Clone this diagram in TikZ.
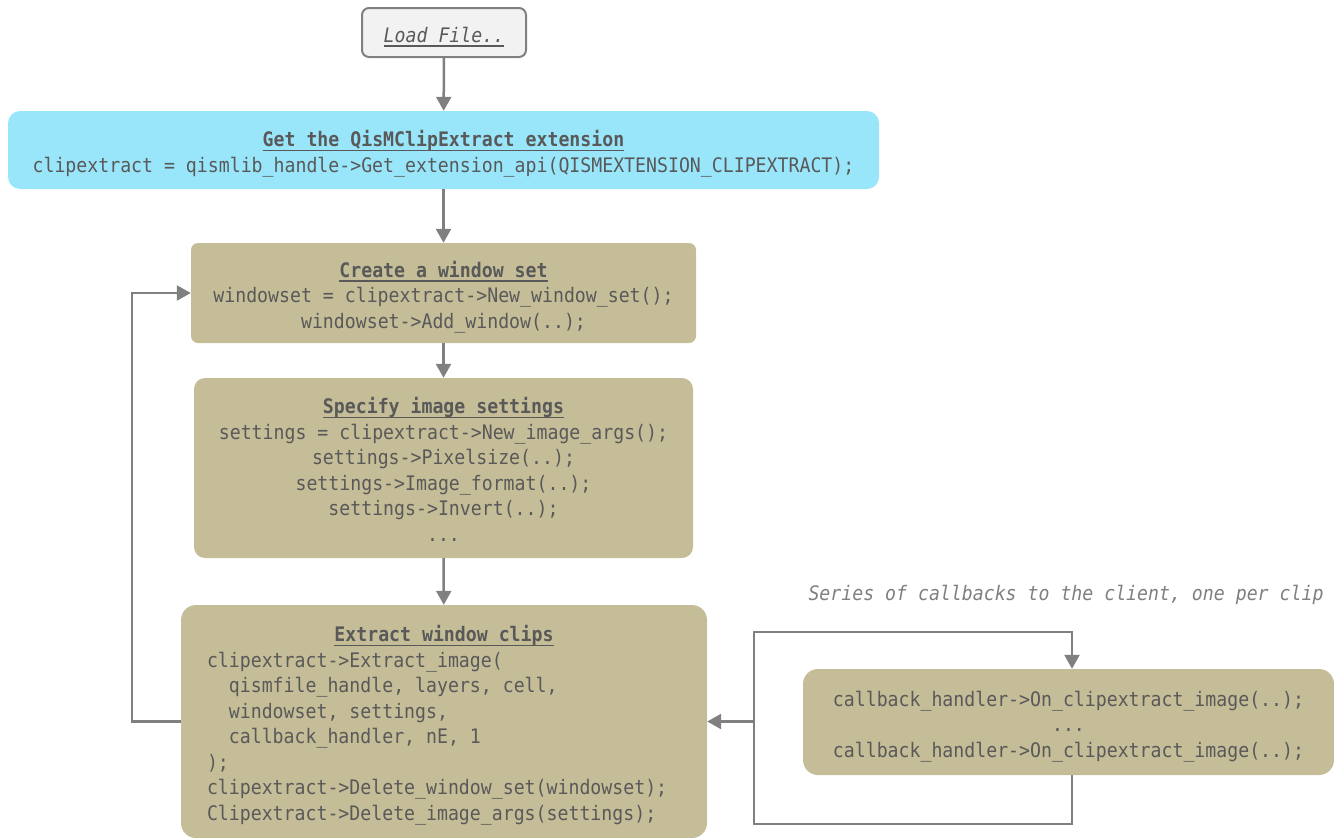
\documentclass[tikz,border=0pt]{standalone}
\usepackage{fontspec}
\setmainfont{DejaVu Sans Mono}[FakeStretch=0.91]
\usetikzlibrary{arrows.meta}

\definecolor{inkgray}{HTML}{595959}
\definecolor{notegray}{HTML}{7F7F7F}
\definecolor{wiregray}{HTML}{808080}
\definecolor{loadfill}{HTML}{F2F2F2}
\definecolor{bluefill}{HTML}{99E6FB}
\definecolor{tanfill}{HTML}{C4BD97}

% struts that lower the text block a little inside each box
\newcommand\bxtop{\rule{0pt}{26.5pt}}
\newcommand\bxbot{\rule[-7.5pt]{0pt}{7.5pt}}
% underline at a fixed depth below the baseline
\newcommand\titleul[1]{\setbox0=\hbox{#1}\leavevmode\rlap{\rule[-4.5pt]{\wd0}{1.6pt}}\box0}

\begin{document}
\begin{tikzpicture}[x=1pt,y=-1pt,
  every node/.style={text=inkgray, inner sep=0pt,
    font=\fontsize{20}{25.5}\selectfont},
  tanbox/.style={fill=tanfill, rounded corners=#1, align=center},
  wire/.style={draw=wiregray, line width=2.5pt},
  arr/.style={wire, -{Triangle[length=14pt,width=15pt]}}]

\useasboundingbox (0,0) rectangle (1334,838);

% boxes
\node[draw=wiregray, line width=2pt, fill=loadfill, rounded corners=7pt,
      minimum width=164pt, minimum height=49pt, align=center]
  (load) at (444,32.5) {\bxtop\titleul{\textit{Load File..}}\bxbot};

\node[fill=bluefill, rounded corners=12pt, minimum width=871pt,
      minimum height=78pt, align=center]
  (getext) at (443.5,150)
  {\bxtop\titleul{\textbf{Get the QisMClipExtract extension}}\\
   clipextract = qismlib\_handle->Get\_extension\_api(QISMEXTENSION\_CLIPEXTRACT);\bxbot};

\node[tanbox=7pt, minimum width=505pt, minimum height=100pt]
  (create) at (443.5,293)
  {\bxtop\titleul{\textbf{Create a window set}}\\
   windowset = clipextract->New\_window\_set();\\
   windowset->Add\_window(..);\bxbot};

\node[tanbox=11pt, minimum width=499pt, minimum height=180pt]
  (spec) at (443.5,468)
  {\bxtop\titleul{\textbf{Specify image settings}}\\
   settings = clipextract->New\_image\_args();\\
   settings->Pixelsize(..);\\
   settings->Image\_format(..);\\
   settings->Invert(..);\\
   ...\bxbot};

\node[fill=tanfill, rounded corners=15pt, minimum width=526pt,
      minimum height=233pt, text width=474pt, align=left]
  (extract) at (444,721.5)
  {\spaceskip=0pt\xspaceskip=0pt\relax
   \bxtop\hfill\titleul{\textbf{Extract window clips}}\hfill\null\\
   clipextract->Extract\_image(\\
   \phantom{xx}qismfile\_handle, layers, cell,\\
   \phantom{xx}windowset, settings,\\
   \phantom{xx}callback\_handler, nE, 1\\
   );\\
   clipextract->Delete\_window\_set(windowset);\\
   Clipextract->Delete\_image\_args(settings);\bxbot};

\node[tanbox=15pt, minimum width=531pt, minimum height=106pt]
  (callback) at (1068.5,722)
  {\bxtop callback\_handler->On\_clipextract\_image(..);\\
   ...\\
   callback\_handler->On\_clipextract\_image(..);\bxbot};

\node[text=notegray, anchor=base, font=\fontsize{20}{25.5}\selectfont\itshape]
  (note) at (1066,600) {Series of callbacks to the client, one per clip};

% main flow
\draw[arr] (load) -- (getext);
\draw[arr] (getext) -- (create);
\draw[arr] (create) -- (spec);
\draw[arr] (spec) -- (extract);

% loop back to a new window set
\coordinate (backtop) at (132,293);
\draw[arr] (extract.west) -| (backtop) -- (create.west);

% callback loop
\coordinate (cbx) at (1072,0);
\coordinate (loopbl) at (754,824);
\coordinate (looptl) at (754,632);
\draw[arr] (callback.south -| cbx) |- (loopbl) -- (looptl) -| (callback.north -| cbx);
\draw[arr] (loopbl |- extract.east) -- (extract.east);
\end{tikzpicture}
\end{document}
